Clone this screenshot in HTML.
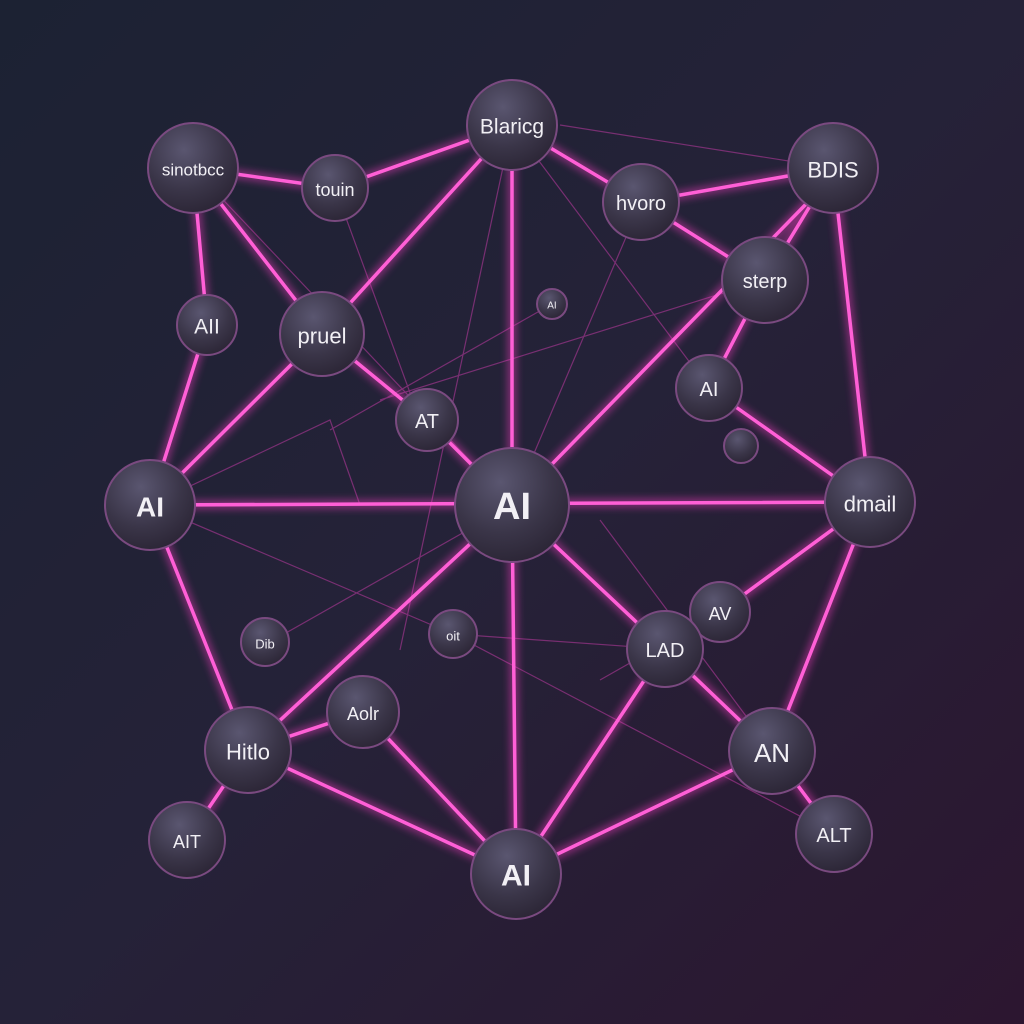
<!DOCTYPE html>
<html><head><style>
html,body{margin:0;padding:0;width:1024px;height:1024px;overflow:hidden;background:#1f2233}
svg{display:block}
text{font-family:"Liberation Sans",sans-serif;fill:#f2f0f5;text-anchor:middle;dominant-baseline:central}
</style></head><body>
<svg width="1024" height="1024" viewBox="0 0 1024 1024">
<defs>
<linearGradient id="bg" x1="0" y1="0" x2="1" y2="1">
<stop offset="0" stop-color="#1c2233"/><stop offset="0.5" stop-color="#252238"/><stop offset="1" stop-color="#2c1630"/>
</linearGradient>
<radialGradient id="ng" cx="0.4" cy="0.3" r="0.75">
<stop offset="0" stop-color="#5a5670"/><stop offset="0.6" stop-color="#3a3548"/><stop offset="1" stop-color="#2a2434"/>
</radialGradient>
<filter id="glow" x="-20%" y="-20%" width="140%" height="140%"><feGaussianBlur stdDeviation="4"/></filter>
</defs>
<rect width="1024" height="1024" fill="url(#bg)"/>
<g stroke="#b0389a" stroke-width="1.2" opacity="0.6" fill="none">
<path d="M193 168 L512 505 M335 188 L420 420 M512 125 L400 650 M512 125 L709 388 M560 125 L833 168 M641 202 L512 505 M765 280 L380 400 M150 505 L453 634 M270 642 L512 505 M709 388 L870 502 M600 520 L772 751 M453 634 L834 834 M552 304 L330 430 M150 505 L330 420 L360 505 M453 634 L665 649 M720 612 L600 680"/>
</g>
<g id="lines" stroke-linecap="round" fill="none">
<g stroke="#ff3ec8" stroke-width="9" opacity="0.45" filter="url(#glow)">
<path id="p" d="M193 168 L335 188 L512 125 L641 202 L833 168 M641 202 L765 280 M833 168 L765 280 M193 168 L322 334 M193 168 L207 325 L150 505 M322 334 L150 505 M322 334 L512 125 M322 334 L427 420 L512 505 M810 200 L512 505 M512 125 L512 505 M150 505 L870 502 M512 505 L516 874 M512 505 L248 750 M512 505 L665 649 L772 751 L834 834 M150 505 L248 750 L187 840 M248 750 L516 874 M248 750 L363 712 L516 874 M516 874 L772 751 M516 874 L665 649 M870 502 L772 751 M870 502 L720 612 M833 168 L870 502 M765 280 L709 388 M709 388 L870 502"/>
</g>
<use href="#p" stroke="#ff5fd6" stroke-width="3.5"/>
</g>
<g stroke="#7a4a80" stroke-width="2" fill="url(#ng)">
<circle cx="512" cy="125" r="45"/><circle cx="193" cy="168" r="45"/><circle cx="335" cy="188" r="33"/>
<circle cx="641" cy="202" r="38"/><circle cx="833" cy="168" r="45"/><circle cx="765" cy="280" r="43"/>
<circle cx="207" cy="325" r="30"/><circle cx="322" cy="334" r="42"/><circle cx="552" cy="304" r="15"/>
<circle cx="709" cy="388" r="33"/><circle cx="427" cy="420" r="31"/><circle cx="741" cy="446" r="17"/>
<circle cx="150" cy="505" r="45"/><circle cx="512" cy="505" r="57"/><circle cx="870" cy="502" r="45"/>
<circle cx="720" cy="612" r="30"/><circle cx="265" cy="642" r="24"/><circle cx="453" cy="634" r="24"/>
<circle cx="665" cy="649" r="38"/><circle cx="363" cy="712" r="36"/><circle cx="248" cy="750" r="43"/>
<circle cx="772" cy="751" r="43"/><circle cx="187" cy="840" r="38"/><circle cx="834" cy="834" r="38"/>
<circle cx="516" cy="874" r="45"/>
</g>
<g>
<text x="512" y="127" font-size="21">Blaricg</text>
<text x="193" y="170" font-size="17">sinotbcc</text>
<text x="335" y="190" font-size="18">touin</text>
<text x="641" y="204" font-size="20">hvoro</text>
<text x="833" y="170" font-size="22">BDIS</text>
<text x="765" y="282" font-size="20">sterp</text>
<text x="207" y="327" font-size="21">AII</text>
<text x="322" y="336" font-size="22">pruel</text>
<text x="552" y="306" font-size="10">AI</text>
<text x="709" y="390" font-size="20">AI</text>
<text x="427" y="422" font-size="20">AT</text>
<text x="150" y="507" font-size="28" font-weight="bold">AI</text>
<text x="512" y="507" font-size="38" font-weight="bold">AI</text>
<text x="870" y="504" font-size="22">dmail</text>
<text x="720" y="614" font-size="18">AV</text>
<text x="265" y="644" font-size="13">Dib</text>
<text x="453" y="636" font-size="13">oit</text>
<text x="665" y="651" font-size="20">LAD</text>
<text x="363" y="714" font-size="18">Aolr</text>
<text x="248" y="752" font-size="22">Hitlo</text>
<text x="772" y="753" font-size="26">AN</text>
<text x="187" y="842" font-size="18">AIT</text>
<text x="834" y="836" font-size="20">ALT</text>
<text x="516" y="876" font-size="30" font-weight="bold">AI</text>
</g>
</svg>
</body></html>
